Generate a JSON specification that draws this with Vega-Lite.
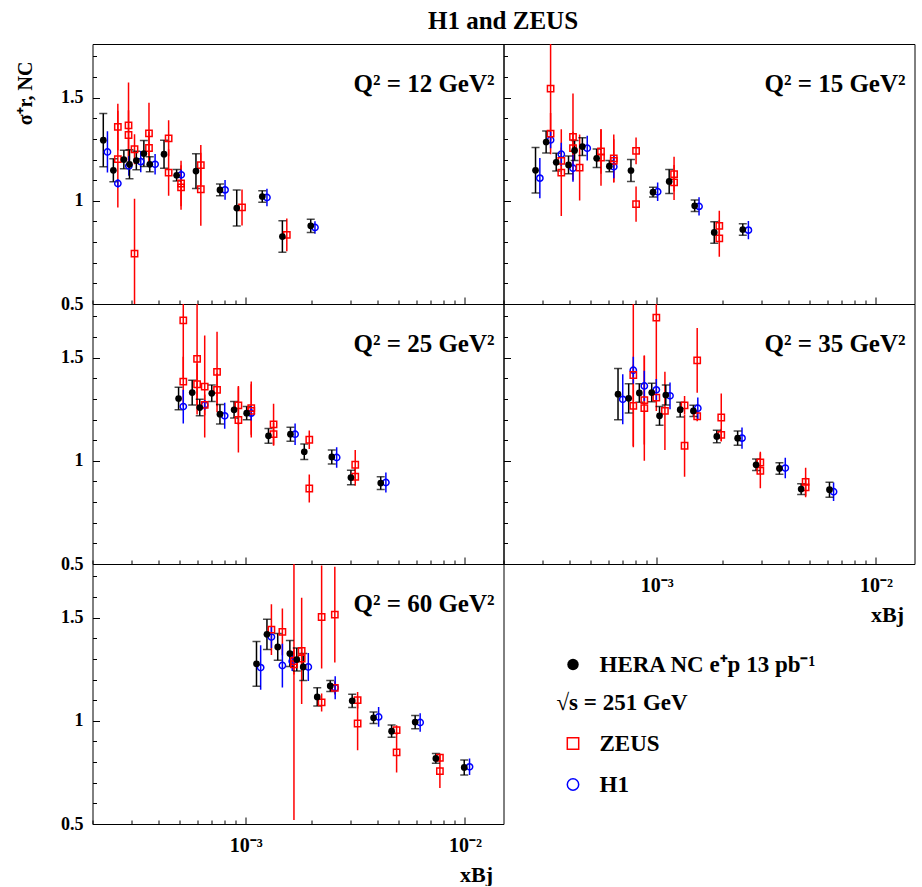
{
  "$schema": "https://vega.github.io/schema/vega-lite/v6.json",
  "padding": {"left": 14.5, "top": 8, "right": 5, "bottom": 0},
  "title": {"text": "H1 and ZEUS", "font": "Liberation Serif", "fontSize": 25, "fontWeight": "bold", "color": "black", "anchor": "middle", "offset": 10, "dx": 38},
  "columns": 2,
  "spacing": 0,
  "bounds": "flush",
  "datasets": {
    "pts": [
      {"q":"12","e":"HERA","x":0.000224,"y":1.294,"lo":1.165,"hi":1.423},
      {"q":"12","e":"HERA","x":0.000249,"y":1.148,"lo":1.092,"hi":1.204},
      {"q":"12","e":"HERA","x":0.000278,"y":1.200,"lo":1.155,"hi":1.245},
      {"q":"12","e":"HERA","x":0.000295,"y":1.177,"lo":1.107,"hi":1.247},
      {"q":"12","e":"HERA","x":0.000317,"y":1.195,"lo":1.150,"hi":1.240},
      {"q":"12","e":"HERA","x":0.000343,"y":1.229,"lo":1.166,"hi":1.292},
      {"q":"12","e":"HERA","x":0.000365,"y":1.177,"lo":1.141,"hi":1.213},
      {"q":"12","e":"HERA","x":0.000424,"y":1.226,"lo":1.158,"hi":1.294},
      {"q":"12","e":"HERA","x":0.000484,"y":1.124,"lo":1.096,"hi":1.152},
      {"q":"12","e":"HERA","x":0.000593,"y":1.144,"lo":1.060,"hi":1.228},
      {"q":"12","e":"HERA","x":0.000763,"y":1.053,"lo":1.025,"hi":1.081},
      {"q":"12","e":"HERA","x":0.000910,"y":0.965,"lo":0.878,"hi":1.052},
      {"q":"12","e":"HERA","x":0.00119,"y":1.021,"lo":0.993,"hi":1.049},
      {"q":"12","e":"HERA","x":0.00147,"y":0.827,"lo":0.751,"hi":0.903},
      {"q":"12","e":"HERA","x":0.00198,"y":0.879,"lo":0.847,"hi":0.911},
      {"q":"12","e":"H1","x":0.000234,"y":1.237,"lo":1.137,"hi":1.337},
      {"q":"12","e":"H1","x":0.000261,"y":1.084,"lo":1.064,"hi":1.104},
      {"q":"12","e":"H1","x":0.000293,"y":1.169,"lo":1.121,"hi":1.217},
      {"q":"12","e":"H1","x":0.000332,"y":1.190,"lo":1.138,"hi":1.242},
      {"q":"12","e":"H1","x":0.000386,"y":1.177,"lo":1.127,"hi":1.227},
      {"q":"12","e":"H1","x":0.000508,"y":1.126,"lo":1.102,"hi":1.150},
      {"q":"12","e":"H1","x":0.000805,"y":1.053,"lo":1.005,"hi":1.101},
      {"q":"12","e":"H1","x":0.00125,"y":1.016,"lo":0.974,"hi":1.058},
      {"q":"12","e":"H1","x":0.00207,"y":0.871,"lo":0.841,"hi":0.901},
      {"q":"12","e":"ZEUS","x":0.000261,"y":1.358,"lo":1.245,"hi":1.471},
      {"q":"12","e":"ZEUS","x":0.000261,"y":1.202,"lo":0.968,"hi":1.436},
      {"q":"12","e":"ZEUS","x":0.000292,"y":1.366,"lo":1.158,"hi":1.574},
      {"q":"12","e":"ZEUS","x":0.000292,"y":1.319,"lo":1.199,"hi":1.439},
      {"q":"12","e":"ZEUS","x":0.000311,"y":1.250,"lo":1.177,"hi":1.323},
      {"q":"12","e":"ZEUS","x":0.000311,"y":0.744,"lo":0.478,"hi":1.010},
      {"q":"12","e":"ZEUS","x":0.000362,"y":1.327,"lo":1.179,"hi":1.475},
      {"q":"12","e":"ZEUS","x":0.000362,"y":1.256,"lo":1.176,"hi":1.336},
      {"q":"12","e":"ZEUS","x":0.000445,"y":1.303,"lo":1.216,"hi":1.390},
      {"q":"12","e":"ZEUS","x":0.000445,"y":1.137,"lo":1.024,"hi":1.250},
      {"q":"12","e":"ZEUS","x":0.000507,"y":1.084,"lo":0.974,"hi":1.194},
      {"q":"12","e":"ZEUS","x":0.000507,"y":1.065,"lo":0.957,"hi":1.173},
      {"q":"12","e":"ZEUS","x":0.000624,"y":1.173,"lo":1.076,"hi":1.270},
      {"q":"12","e":"ZEUS","x":0.000624,"y":1.056,"lo":0.879,"hi":1.233},
      {"q":"12","e":"ZEUS","x":0.000962,"y":0.968,"lo":0.881,"hi":1.055},
      {"q":"12","e":"ZEUS","x":0.00154,"y":0.835,"lo":0.756,"hi":0.914},

      {"q":"15","e":"HERA","x":0.000280,"y":1.148,"lo":1.038,"hi":1.258},
      {"q":"15","e":"HERA","x":0.000313,"y":1.285,"lo":1.232,"hi":1.338},
      {"q":"15","e":"HERA","x":0.000348,"y":1.187,"lo":1.144,"hi":1.230},
      {"q":"15","e":"HERA","x":0.000396,"y":1.174,"lo":1.131,"hi":1.217},
      {"q":"15","e":"HERA","x":0.000422,"y":1.244,"lo":1.196,"hi":1.292},
      {"q":"15","e":"HERA","x":0.000458,"y":1.263,"lo":1.220,"hi":1.306},
      {"q":"15","e":"HERA","x":0.000532,"y":1.206,"lo":1.161,"hi":1.251},
      {"q":"15","e":"HERA","x":0.000608,"y":1.168,"lo":1.141,"hi":1.195},
      {"q":"15","e":"HERA","x":0.000763,"y":1.147,"lo":1.094,"hi":1.200},
      {"q":"15","e":"HERA","x":0.000962,"y":1.042,"lo":1.018,"hi":1.066},
      {"q":"15","e":"HERA","x":0.00114,"y":1.094,"lo":1.036,"hi":1.152},
      {"q":"15","e":"HERA","x":0.00149,"y":0.976,"lo":0.948,"hi":1.004},
      {"q":"15","e":"HERA","x":0.00183,"y":0.847,"lo":0.795,"hi":0.899},
      {"q":"15","e":"HERA","x":0.00247,"y":0.861,"lo":0.833,"hi":0.889},
      {"q":"15","e":"H1","x":0.000293,"y":1.110,"lo":1.012,"hi":1.208},
      {"q":"15","e":"H1","x":0.000328,"y":1.295,"lo":1.255,"hi":1.335},
      {"q":"15","e":"H1","x":0.000367,"y":1.226,"lo":1.170,"hi":1.282},
      {"q":"15","e":"H1","x":0.000415,"y":1.158,"lo":1.093,"hi":1.223},
      {"q":"15","e":"H1","x":0.000482,"y":1.255,"lo":1.195,"hi":1.315},
      {"q":"15","e":"H1","x":0.000637,"y":1.165,"lo":1.109,"hi":1.221},
      {"q":"15","e":"H1","x":0.00101,"y":1.044,"lo":0.999,"hi":1.089},
      {"q":"15","e":"H1","x":0.00156,"y":0.973,"lo":0.929,"hi":1.017},
      {"q":"15","e":"H1","x":0.00262,"y":0.858,"lo":0.814,"hi":0.902},
      {"q":"15","e":"ZEUS","x":0.000328,"y":1.544,"lo":1.294,"hi":1.794},
      {"q":"15","e":"ZEUS","x":0.000328,"y":1.326,"lo":1.226,"hi":1.426},
      {"q":"15","e":"ZEUS","x":0.000367,"y":1.194,"lo":1.129,"hi":1.259},
      {"q":"15","e":"ZEUS","x":0.000367,"y":1.137,"lo":0.927,"hi":1.347},
      {"q":"15","e":"ZEUS","x":0.000415,"y":1.310,"lo":1.100,"hi":1.520},
      {"q":"15","e":"ZEUS","x":0.000415,"y":1.255,"lo":1.175,"hi":1.335},
      {"q":"15","e":"ZEUS","x":0.000445,"y":1.161,"lo":1.001,"hi":1.321},
      {"q":"15","e":"ZEUS","x":0.000557,"y":1.239,"lo":1.131,"hi":1.347},
      {"q":"15","e":"ZEUS","x":0.000557,"y":1.210,"lo":1.073,"hi":1.347},
      {"q":"15","e":"ZEUS","x":0.000637,"y":1.206,"lo":1.090,"hi":1.322},
      {"q":"15","e":"ZEUS","x":0.000637,"y":1.194,"lo":1.089,"hi":1.299},
      {"q":"15","e":"ZEUS","x":0.000805,"y":1.242,"lo":1.177,"hi":1.307},
      {"q":"15","e":"ZEUS","x":0.000805,"y":0.984,"lo":0.899,"hi":1.069},
      {"q":"15","e":"ZEUS","x":0.00120,"y":1.129,"lo":1.045,"hi":1.213},
      {"q":"15","e":"ZEUS","x":0.00120,"y":1.089,"lo":1.004,"hi":1.174},
      {"q":"15","e":"ZEUS","x":0.00193,"y":0.879,"lo":0.806,"hi":0.952},
      {"q":"15","e":"ZEUS","x":0.00193,"y":0.818,"lo":0.729,"hi":0.907},

      {"q":"25","e":"HERA","x":0.000494,"y":1.302,"lo":1.247,"hi":1.357},
      {"q":"25","e":"HERA","x":0.000570,"y":1.331,"lo":1.271,"hi":1.391},
      {"q":"25","e":"HERA","x":0.000617,"y":1.258,"lo":1.218,"hi":1.298},
      {"q":"25","e":"HERA","x":0.000700,"y":1.327,"lo":1.287,"hi":1.367},
      {"q":"25","e":"HERA","x":0.000763,"y":1.226,"lo":1.179,"hi":1.273},
      {"q":"25","e":"HERA","x":0.000885,"y":1.247,"lo":1.207,"hi":1.287},
      {"q":"25","e":"HERA","x":0.00101,"y":1.231,"lo":1.199,"hi":1.263},
      {"q":"25","e":"HERA","x":0.00127,"y":1.121,"lo":1.085,"hi":1.157},
      {"q":"25","e":"HERA","x":0.00160,"y":1.129,"lo":1.095,"hi":1.163},
      {"q":"25","e":"HERA","x":0.00185,"y":1.044,"lo":1.007,"hi":1.081},
      {"q":"25","e":"HERA","x":0.00247,"y":1.019,"lo":0.985,"hi":1.053},
      {"q":"25","e":"HERA","x":0.00302,"y":0.919,"lo":0.884,"hi":0.954},
      {"q":"25","e":"HERA","x":0.00413,"y":0.892,"lo":0.861,"hi":0.923},
      {"q":"25","e":"H1","x":0.000519,"y":1.263,"lo":1.181,"hi":1.345},
      {"q":"25","e":"H1","x":0.000650,"y":1.271,"lo":1.247,"hi":1.295},
      {"q":"25","e":"H1","x":0.000802,"y":1.218,"lo":1.155,"hi":1.281},
      {"q":"25","e":"H1","x":0.00106,"y":1.231,"lo":1.196,"hi":1.266},
      {"q":"25","e":"H1","x":0.00168,"y":1.129,"lo":1.077,"hi":1.181},
      {"q":"25","e":"H1","x":0.00260,"y":1.016,"lo":0.966,"hi":1.066},
      {"q":"25","e":"H1","x":0.00436,"y":0.895,"lo":0.847,"hi":0.943},
      {"q":"25","e":"ZEUS","x":0.000519,"y":1.681,"lo":1.401,"hi":1.961},
      {"q":"25","e":"ZEUS","x":0.000519,"y":1.384,"lo":1.264,"hi":1.504},
      {"q":"25","e":"ZEUS","x":0.000600,"y":1.494,"lo":1.224,"hi":1.764},
      {"q":"25","e":"ZEUS","x":0.000600,"y":1.371,"lo":1.271,"hi":1.471},
      {"q":"25","e":"ZEUS","x":0.000650,"y":1.360,"lo":1.113,"hi":1.607},
      {"q":"25","e":"ZEUS","x":0.000650,"y":1.271,"lo":1.221,"hi":1.321},
      {"q":"25","e":"ZEUS","x":0.000740,"y":1.431,"lo":1.236,"hi":1.626},
      {"q":"25","e":"ZEUS","x":0.000740,"y":1.344,"lo":1.264,"hi":1.424},
      {"q":"25","e":"ZEUS","x":0.000926,"y":1.269,"lo":1.175,"hi":1.363},
      {"q":"25","e":"ZEUS","x":0.000926,"y":1.198,"lo":1.040,"hi":1.356},
      {"q":"25","e":"ZEUS","x":0.00106,"y":1.255,"lo":1.126,"hi":1.384},
      {"q":"25","e":"ZEUS","x":0.00106,"y":1.242,"lo":1.113,"hi":1.371},
      {"q":"25","e":"ZEUS","x":0.00134,"y":1.177,"lo":1.077,"hi":1.277},
      {"q":"25","e":"ZEUS","x":0.00134,"y":1.129,"lo":1.073,"hi":1.185},
      {"q":"25","e":"ZEUS","x":0.00195,"y":1.102,"lo":1.057,"hi":1.147},
      {"q":"25","e":"ZEUS","x":0.00195,"y":0.866,"lo":0.798,"hi":0.934},
      {"q":"25","e":"ZEUS","x":0.00316,"y":0.981,"lo":0.910,"hi":1.052},
      {"q":"25","e":"ZEUS","x":0.00316,"y":0.923,"lo":0.879,"hi":0.967},

      {"q":"35","e":"HERA","x":0.000666,"y":1.323,"lo":1.199,"hi":1.447},
      {"q":"35","e":"HERA","x":0.000745,"y":1.303,"lo":1.232,"hi":1.374},
      {"q":"35","e":"HERA","x":0.000833,"y":1.329,"lo":1.284,"hi":1.374},
      {"q":"35","e":"HERA","x":0.000949,"y":1.331,"lo":1.286,"hi":1.376},
      {"q":"35","e":"HERA","x":0.00103,"y":1.218,"lo":1.173,"hi":1.263},
      {"q":"35","e":"HERA","x":0.00110,"y":1.319,"lo":1.271,"hi":1.367},
      {"q":"35","e":"HERA","x":0.00128,"y":1.248,"lo":1.212,"hi":1.284},
      {"q":"35","e":"HERA","x":0.00147,"y":1.242,"lo":1.215,"hi":1.269},
      {"q":"35","e":"HERA","x":0.00188,"y":1.118,"lo":1.088,"hi":1.148},
      {"q":"35","e":"HERA","x":0.00234,"y":1.110,"lo":1.075,"hi":1.145},
      {"q":"35","e":"HERA","x":0.00284,"y":0.981,"lo":0.953,"hi":1.009},
      {"q":"35","e":"HERA","x":0.00363,"y":0.963,"lo":0.935,"hi":0.991},
      {"q":"35","e":"HERA","x":0.00456,"y":0.863,"lo":0.837,"hi":0.889},
      {"q":"35","e":"HERA","x":0.00614,"y":0.860,"lo":0.824,"hi":0.896},
      {"q":"35","e":"H1","x":0.000700,"y":1.298,"lo":1.177,"hi":1.419},
      {"q":"35","e":"H1","x":0.000782,"y":1.439,"lo":1.374,"hi":1.504},
      {"q":"35","e":"H1","x":0.000878,"y":1.363,"lo":1.290,"hi":1.436},
      {"q":"35","e":"H1","x":0.000996,"y":1.344,"lo":1.292,"hi":1.396},
      {"q":"35","e":"H1","x":0.00115,"y":1.315,"lo":1.250,"hi":1.380},
      {"q":"35","e":"H1","x":0.00154,"y":1.255,"lo":1.203,"hi":1.307},
      {"q":"35","e":"H1","x":0.00245,"y":1.110,"lo":1.058,"hi":1.162},
      {"q":"35","e":"H1","x":0.00386,"y":0.965,"lo":0.915,"hi":1.015},
      {"q":"35","e":"H1","x":0.00641,"y":0.850,"lo":0.805,"hi":0.895},
      {"q":"35","e":"ZEUS","x":0.000782,"y":1.416,"lo":1.072,"hi":1.760},
      {"q":"35","e":"ZEUS","x":0.000782,"y":1.266,"lo":1.066,"hi":1.466},
      {"q":"35","e":"ZEUS","x":0.000878,"y":1.294,"lo":1.079,"hi":1.509},
      {"q":"35","e":"ZEUS","x":0.000878,"y":1.255,"lo":1.000,"hi":1.510},
      {"q":"35","e":"ZEUS","x":0.000996,"y":1.694,"lo":1.374,"hi":2.014},
      {"q":"35","e":"ZEUS","x":0.000996,"y":1.306,"lo":1.241,"hi":1.371},
      {"q":"35","e":"ZEUS","x":0.00109,"y":1.242,"lo":1.052,"hi":1.432},
      {"q":"35","e":"ZEUS","x":0.00134,"y":1.269,"lo":1.224,"hi":1.314},
      {"q":"35","e":"ZEUS","x":0.00134,"y":1.073,"lo":0.923,"hi":1.223},
      {"q":"35","e":"ZEUS","x":0.00153,"y":1.487,"lo":1.330,"hi":1.644},
      {"q":"35","e":"ZEUS","x":0.00153,"y":1.216,"lo":1.192,"hi":1.240},
      {"q":"35","e":"ZEUS","x":0.00197,"y":1.210,"lo":1.094,"hi":1.326},
      {"q":"35","e":"ZEUS","x":0.00197,"y":1.126,"lo":1.096,"hi":1.156},
      {"q":"35","e":"ZEUS","x":0.00297,"y":0.992,"lo":0.940,"hi":1.044},
      {"q":"35","e":"ZEUS","x":0.00297,"y":0.952,"lo":0.867,"hi":1.037},
      {"q":"35","e":"ZEUS","x":0.00478,"y":0.898,"lo":0.829,"hi":0.967},
      {"q":"35","e":"ZEUS","x":0.00478,"y":0.871,"lo":0.823,"hi":0.919},

      {"q":"60","e":"HERA","x":0.00112,"y":1.276,"lo":1.167,"hi":1.385},
      {"q":"60","e":"HERA","x":0.00125,"y":1.419,"lo":1.346,"hi":1.492},
      {"q":"60","e":"HERA","x":0.00140,"y":1.358,"lo":1.293,"hi":1.423},
      {"q":"60","e":"HERA","x":0.00159,"y":1.326,"lo":1.263,"hi":1.389},
      {"q":"60","e":"HERA","x":0.00171,"y":1.297,"lo":1.241,"hi":1.353},
      {"q":"60","e":"HERA","x":0.00183,"y":1.261,"lo":1.196,"hi":1.326},
      {"q":"60","e":"HERA","x":0.00212,"y":1.116,"lo":1.072,"hi":1.160},
      {"q":"60","e":"HERA","x":0.00243,"y":1.169,"lo":1.142,"hi":1.196},
      {"q":"60","e":"HERA","x":0.00306,"y":1.097,"lo":1.065,"hi":1.129},
      {"q":"60","e":"HERA","x":0.00383,"y":1.015,"lo":0.987,"hi":1.043},
      {"q":"60","e":"HERA","x":0.00463,"y":0.950,"lo":0.920,"hi":0.980},
      {"q":"60","e":"HERA","x":0.00593,"y":0.994,"lo":0.962,"hi":1.026},
      {"q":"60","e":"HERA","x":0.00737,"y":0.818,"lo":0.794,"hi":0.842},
      {"q":"60","e":"HERA","x":0.00993,"y":0.774,"lo":0.738,"hi":0.810},
      {"q":"60","e":"H1","x":0.00117,"y":1.258,"lo":1.150,"hi":1.366},
      {"q":"60","e":"H1","x":0.00131,"y":1.406,"lo":1.353,"hi":1.459},
      {"q":"60","e":"H1","x":0.00147,"y":1.268,"lo":1.162,"hi":1.374},
      {"q":"60","e":"H1","x":0.00163,"y":1.289,"lo":1.241,"hi":1.337},
      {"q":"60","e":"H1","x":0.00193,"y":1.261,"lo":1.193,"hi":1.329},
      {"q":"60","e":"H1","x":0.00256,"y":1.160,"lo":1.104,"hi":1.216},
      {"q":"60","e":"H1","x":0.00404,"y":1.019,"lo":0.971,"hi":1.067},
      {"q":"60","e":"H1","x":0.00625,"y":0.992,"lo":0.947,"hi":1.037},
      {"q":"60","e":"H1","x":0.0105,"y":0.777,"lo":0.737,"hi":0.817},
      {"q":"60","e":"ZEUS","x":0.00131,"y":1.442,"lo":1.319,"hi":1.565},
      {"q":"60","e":"ZEUS","x":0.00147,"y":1.431,"lo":1.318,"hi":1.544},
      {"q":"60","e":"ZEUS","x":0.00166,"y":1.274,"lo":0.519,"hi":2.029},
      {"q":"60","e":"ZEUS","x":0.00166,"y":1.290,"lo":1.225,"hi":1.355},
      {"q":"60","e":"ZEUS","x":0.00180,"y":1.339,"lo":1.081,"hi":1.597},
      {"q":"60","e":"ZEUS","x":0.00180,"y":1.302,"lo":1.252,"hi":1.352},
      {"q":"60","e":"ZEUS","x":0.00222,"y":1.503,"lo":1.253,"hi":1.753},
      {"q":"60","e":"ZEUS","x":0.00222,"y":1.089,"lo":1.045,"hi":1.133},
      {"q":"60","e":"ZEUS","x":0.00255,"y":1.515,"lo":1.283,"hi":1.747},
      {"q":"60","e":"ZEUS","x":0.00255,"y":1.160,"lo":1.128,"hi":1.192},
      {"q":"60","e":"ZEUS","x":0.00324,"y":1.100,"lo":1.060,"hi":1.140},
      {"q":"60","e":"ZEUS","x":0.00324,"y":0.987,"lo":0.858,"hi":1.116},
      {"q":"60","e":"ZEUS","x":0.00488,"y":0.955,"lo":0.931,"hi":0.979},
      {"q":"60","e":"ZEUS","x":0.00488,"y":0.847,"lo":0.750,"hi":0.944},
      {"q":"60","e":"ZEUS","x":0.00769,"y":0.821,"lo":0.800,"hi":0.842},
      {"q":"60","e":"ZEUS","x":0.00769,"y":0.756,"lo":0.675,"hi":0.837}
    ]
  },
  "concat": [
    {
      "width": 411, "height": 260,
      "title": {"text": "Q² = 12 GeV²", "orient": "top", "anchor": "end", "frame": "group", "offset": -73, "dx": -9, "baseline": "alphabetic", "font": "Liberation Serif", "fontWeight": "bold", "fontSize": 25, "color": "black"},
      "data": {"name": "pts"},
      "transform": [{"filter": "datum.q == '12'"}],
      "encoding": {
        "x": {"field": "x", "type": "quantitative", "scale": {"type": "log", "domain": [0.0002, 0.015]},
          "axis": {"values": [0.0002,0.0003,0.0004,0.0005,0.0006,0.0007,0.0008,0.0009,0.001,0.002,0.003,0.004,0.005,0.006,0.007,0.008,0.009,0.01],
            "tickSize": {"condition": {"test": "datum.value == 0.001 || datum.value == 0.01", "value": -7}, "value": -4},
            "labels": false, "title": null}},
        "y": {"field": "y", "type": "quantitative", "scale": {"domain": [0.5, 1.76], "zero": false, "nice": false},
          "axis": {"values": [0.5,0.6,0.7,0.8,0.9,1,1.1,1.2,1.3,1.4,1.5,1.6,1.7],
            "tickSize": {"condition": {"test": "datum.value == 0.5 || datum.value == 1 || datum.value == 1.5", "value": -7}, "value": -4},
            "labelExpr": "datum.value == 0.5 ? '0.5' : datum.value == 1 ? '1' : datum.value == 1.5 ? '1.5' : ''",
            "labelFontSize": 18, "labelPadding": 16.5,
            "title": "σ⁺r, NC", "titleFontSize": 20, "titleAngle": -90, "titleAlign": "right", "titleBaseline": "bottom", "titleX": -57, "titleY": 17}}
      },
      "layer": [
        {"transform": [{"filter": "datum.e == 'ZEUS'"}], "mark": {"type": "rule", "color": "#ff0000", "strokeWidth": 1.5, "clip": true},
          "encoding": {"y": {"field": "lo", "type": "quantitative", "axis": {"values": [0.5,0.6,0.7,0.8,0.9,1,1.1,1.2,1.3,1.4,1.5,1.6,1.7],
            "tickSize": {"condition": {"test": "datum.value == 0.5 || datum.value == 1 || datum.value == 1.5", "value": -7}, "value": -4},
            "labelExpr": "datum.value == 0.5 ? '0.5' : datum.value == 1 ? '1' : datum.value == 1.5 ? '1.5' : ''",
            "labelFontSize": 18, "labelPadding": 16.5,
            "title": "σ⁺r, NC", "titleFontSize": 20, "titleAngle": -90, "titleAlign": "right", "titleBaseline": "bottom", "titleX": -57, "titleY": 17}}, "y2": {"field": "hi"}}},
        {"transform": [{"filter": "datum.e == 'H1'"}], "mark": {"type": "rule", "color": "#0000ff", "strokeWidth": 1.5, "clip": true},
          "encoding": {"y": {"field": "lo", "type": "quantitative", "axis": {"values": [0.5,0.6,0.7,0.8,0.9,1,1.1,1.2,1.3,1.4,1.5,1.6,1.7],
            "tickSize": {"condition": {"test": "datum.value == 0.5 || datum.value == 1 || datum.value == 1.5", "value": -7}, "value": -4},
            "labelExpr": "datum.value == 0.5 ? '0.5' : datum.value == 1 ? '1' : datum.value == 1.5 ? '1.5' : ''",
            "labelFontSize": 18, "labelPadding": 16.5,
            "title": "σ⁺r, NC", "titleFontSize": 20, "titleAngle": -90, "titleAlign": "right", "titleBaseline": "bottom", "titleX": -57, "titleY": 17}}, "y2": {"field": "hi"}}},
        {"transform": [{"filter": "datum.e == 'HERA'"}], "mark": {"type": "rule", "color": "black", "strokeWidth": 1.5, "clip": true},
          "encoding": {"y": {"field": "lo", "type": "quantitative", "axis": {"values": [0.5,0.6,0.7,0.8,0.9,1,1.1,1.2,1.3,1.4,1.5,1.6,1.7],
            "tickSize": {"condition": {"test": "datum.value == 0.5 || datum.value == 1 || datum.value == 1.5", "value": -7}, "value": -4},
            "labelExpr": "datum.value == 0.5 ? '0.5' : datum.value == 1 ? '1' : datum.value == 1.5 ? '1.5' : ''",
            "labelFontSize": 18, "labelPadding": 16.5,
            "title": "σ⁺r, NC", "titleFontSize": 20, "titleAngle": -90, "titleAlign": "right", "titleBaseline": "bottom", "titleX": -57, "titleY": 17}}, "y2": {"field": "hi"}}},
        {"transform": [{"filter": "datum.e == 'HERA'"}], "mark": {"type": "tick", "orient": "horizontal", "size": 8, "thickness": 1.5, "color": "black", "clip": true},
          "encoding": {"y": {"field": "lo", "type": "quantitative", "axis": {"values": [0.5,0.6,0.7,0.8,0.9,1,1.1,1.2,1.3,1.4,1.5,1.6,1.7],
            "tickSize": {"condition": {"test": "datum.value == 0.5 || datum.value == 1 || datum.value == 1.5", "value": -7}, "value": -4},
            "labelExpr": "datum.value == 0.5 ? '0.5' : datum.value == 1 ? '1' : datum.value == 1.5 ? '1.5' : ''",
            "labelFontSize": 18, "labelPadding": 16.5,
            "title": "σ⁺r, NC", "titleFontSize": 20, "titleAngle": -90, "titleAlign": "right", "titleBaseline": "bottom", "titleX": -57, "titleY": 17}}}},
        {"transform": [{"filter": "datum.e == 'HERA'"}], "mark": {"type": "tick", "orient": "horizontal", "size": 8, "thickness": 1.5, "color": "black", "clip": true},
          "encoding": {"y": {"field": "hi", "type": "quantitative", "axis": {"values": [0.5,0.6,0.7,0.8,0.9,1,1.1,1.2,1.3,1.4,1.5,1.6,1.7],
            "tickSize": {"condition": {"test": "datum.value == 0.5 || datum.value == 1 || datum.value == 1.5", "value": -7}, "value": -4},
            "labelExpr": "datum.value == 0.5 ? '0.5' : datum.value == 1 ? '1' : datum.value == 1.5 ? '1.5' : ''",
            "labelFontSize": 18, "labelPadding": 16.5,
            "title": "σ⁺r, NC", "titleFontSize": 20, "titleAngle": -90, "titleAlign": "right", "titleBaseline": "bottom", "titleX": -57, "titleY": 17}}}},
        {"transform": [{"filter": "datum.e != 'HERA'"}], "mark": {"type": "point", "filled": false, "strokeWidth": 1.5, "size": 40, "opacity": 1, "clip": true},
          "encoding": {
            "shape": {"field": "e", "type": "nominal", "scale": {"domain": ["ZEUS", "H1"], "range": ["square", "circle"]},
              "legend": {"title": "√s = 251 GeV", "orient": "none", "legendX": 464, "legendY": 648, "symbolOffset": 5, "rowPadding": 17, "titlePadding": 17, "symbolFillColor": "transparent"}},
            "stroke": {"field": "e", "type": "nominal", "scale": {"domain": ["ZEUS", "H1"], "range": ["#ff0000", "#0000ff"]},
              "legend": {"title": "√s = 251 GeV", "orient": "none", "legendX": 464, "legendY": 648, "symbolOffset": 5, "rowPadding": 17, "titlePadding": 17, "symbolFillColor": "transparent"}}
          }},
        {"transform": [{"filter": "datum.e == 'HERA'"}], "mark": {"type": "point", "filled": true, "size": 45, "opacity": 1, "clip": true},
          "encoding": {"fill": {"field": "e", "type": "nominal", "scale": {"domain": ["HERA"], "range": ["black"]},
            "legend": {"title": null, "orient": "none", "legendX": 469, "legendY": 609, "symbolType": "circle", "labelExpr": "'HERA NC e⁺p 13 pb⁻¹'", "symbolStrokeWidth": 0}}}}
      ]
    },
    {
      "width": 411, "height": 260,
      "title": {"text": "Q² = 15 GeV²", "orient": "top", "anchor": "end", "frame": "group", "offset": -73, "dx": -9, "baseline": "alphabetic", "font": "Liberation Serif", "fontWeight": "bold", "fontSize": 25, "color": "black"},
      "data": {"name": "pts"},
      "transform": [{"filter": "datum.q == '15'"}],
      "encoding": {
        "x": {"field": "x", "type": "quantitative", "scale": {"type": "log", "domain": [0.0002, 0.015]},
          "axis": {"values": [0.0002,0.0003,0.0004,0.0005,0.0006,0.0007,0.0008,0.0009,0.001,0.002,0.003,0.004,0.005,0.006,0.007,0.008,0.009,0.01],
            "tickSize": {"condition": {"test": "datum.value == 0.001 || datum.value == 0.01", "value": -7}, "value": -4},
            "labels": false, "title": null}},
        "y": {"field": "y", "type": "quantitative", "scale": {"domain": [0.5, 1.76], "zero": false, "nice": false},
          "axis": {"values": [0.5,0.6,0.7,0.8,0.9,1,1.1,1.2,1.3,1.4,1.5,1.6,1.7],
            "tickSize": {"condition": {"test": "datum.value == 0.5 || datum.value == 1 || datum.value == 1.5", "value": -7}, "value": -4},
            "labels": false, "title": null}}
      },
      "layer": [
        {"transform": [{"filter": "datum.e == 'ZEUS'"}], "mark": {"type": "rule", "color": "#ff0000", "strokeWidth": 1.5, "clip": true},
          "encoding": {"y": {"field": "lo", "type": "quantitative"}, "y2": {"field": "hi"}}},
        {"transform": [{"filter": "datum.e == 'H1'"}], "mark": {"type": "rule", "color": "#0000ff", "strokeWidth": 1.5, "clip": true},
          "encoding": {"y": {"field": "lo", "type": "quantitative"}, "y2": {"field": "hi"}}},
        {"transform": [{"filter": "datum.e == 'HERA'"}], "mark": {"type": "rule", "color": "black", "strokeWidth": 1.5, "clip": true},
          "encoding": {"y": {"field": "lo", "type": "quantitative"}, "y2": {"field": "hi"}}},
        {"transform": [{"filter": "datum.e == 'HERA'"}], "mark": {"type": "tick", "orient": "horizontal", "size": 8, "thickness": 1.5, "color": "black", "clip": true},
          "encoding": {"y": {"field": "lo", "type": "quantitative"}}},
        {"transform": [{"filter": "datum.e == 'HERA'"}], "mark": {"type": "tick", "orient": "horizontal", "size": 8, "thickness": 1.5, "color": "black", "clip": true},
          "encoding": {"y": {"field": "hi", "type": "quantitative"}}},
        {"transform": [{"filter": "datum.e != 'HERA'"}], "mark": {"type": "point", "filled": false, "strokeWidth": 1.5, "size": 40, "opacity": 1, "clip": true},
          "encoding": {
            "shape": {"field": "e", "type": "nominal", "scale": {"domain": ["ZEUS", "H1"], "range": ["square", "circle"]},
              "legend": {"title": "√s = 251 GeV", "orient": "none", "legendX": 464, "legendY": 648, "symbolOffset": 5, "rowPadding": 17, "titlePadding": 17, "symbolFillColor": "transparent"}},
            "stroke": {"field": "e", "type": "nominal", "scale": {"domain": ["ZEUS", "H1"], "range": ["#ff0000", "#0000ff"]},
              "legend": {"title": "√s = 251 GeV", "orient": "none", "legendX": 464, "legendY": 648, "symbolOffset": 5, "rowPadding": 17, "titlePadding": 17, "symbolFillColor": "transparent"}}
          }},
        {"transform": [{"filter": "datum.e == 'HERA'"}], "mark": {"type": "point", "filled": true, "size": 45, "opacity": 1, "clip": true},
          "encoding": {"fill": {"field": "e", "type": "nominal", "scale": {"domain": ["HERA"], "range": ["black"]},
            "legend": {"title": null, "orient": "none", "legendX": 469, "legendY": 609, "symbolType": "circle", "labelExpr": "'HERA NC e⁺p 13 pb⁻¹'", "symbolStrokeWidth": 0}}}}
      ]
    },
    {
      "width": 411, "height": 260,
      "title": {"text": "Q² = 25 GeV²", "orient": "top", "anchor": "end", "frame": "group", "offset": -73, "dx": -9, "baseline": "alphabetic", "font": "Liberation Serif", "fontWeight": "bold", "fontSize": 25, "color": "black"},
      "data": {"name": "pts"},
      "transform": [{"filter": "datum.q == '25'"}],
      "encoding": {
        "x": {"field": "x", "type": "quantitative", "scale": {"type": "log", "domain": [0.0002, 0.015]},
          "axis": {"values": [0.0002,0.0003,0.0004,0.0005,0.0006,0.0007,0.0008,0.0009,0.001,0.002,0.003,0.004,0.005,0.006,0.007,0.008,0.009,0.01],
            "tickSize": {"condition": {"test": "datum.value == 0.001 || datum.value == 0.01", "value": -7}, "value": -4},
            "labels": false, "title": null}},
        "y": {"field": "y", "type": "quantitative", "scale": {"domain": [0.5, 1.76], "zero": false, "nice": false},
          "axis": {"values": [0.5,0.6,0.7,0.8,0.9,1,1.1,1.2,1.3,1.4,1.5,1.6,1.7],
            "tickSize": {"condition": {"test": "datum.value == 0.5 || datum.value == 1 || datum.value == 1.5", "value": -7}, "value": -4},
            "labelExpr": "datum.value == 0.5 ? '0.5' : datum.value == 1 ? '1' : datum.value == 1.5 ? '1.5' : ''",
            "labelFontSize": 18, "labelPadding": 16.5, "title": null}}
      },
      "layer": [
        {"transform": [{"filter": "datum.e == 'ZEUS'"}], "mark": {"type": "rule", "color": "#ff0000", "strokeWidth": 1.5, "clip": true},
          "encoding": {"y": {"field": "lo", "type": "quantitative"}, "y2": {"field": "hi"}}},
        {"transform": [{"filter": "datum.e == 'H1'"}], "mark": {"type": "rule", "color": "#0000ff", "strokeWidth": 1.5, "clip": true},
          "encoding": {"y": {"field": "lo", "type": "quantitative"}, "y2": {"field": "hi"}}},
        {"transform": [{"filter": "datum.e == 'HERA'"}], "mark": {"type": "rule", "color": "black", "strokeWidth": 1.5, "clip": true},
          "encoding": {"y": {"field": "lo", "type": "quantitative"}, "y2": {"field": "hi"}}},
        {"transform": [{"filter": "datum.e == 'HERA'"}], "mark": {"type": "tick", "orient": "horizontal", "size": 8, "thickness": 1.5, "color": "black", "clip": true},
          "encoding": {"y": {"field": "lo", "type": "quantitative"}}},
        {"transform": [{"filter": "datum.e == 'HERA'"}], "mark": {"type": "tick", "orient": "horizontal", "size": 8, "thickness": 1.5, "color": "black", "clip": true},
          "encoding": {"y": {"field": "hi", "type": "quantitative"}}},
        {"transform": [{"filter": "datum.e != 'HERA'"}], "mark": {"type": "point", "filled": false, "strokeWidth": 1.5, "size": 40, "opacity": 1, "clip": true},
          "encoding": {
            "shape": {"field": "e", "type": "nominal", "scale": {"domain": ["ZEUS", "H1"], "range": ["square", "circle"]},
              "legend": {"title": "√s = 251 GeV", "orient": "none", "legendX": 464, "legendY": 648, "symbolOffset": 5, "rowPadding": 17, "titlePadding": 17, "symbolFillColor": "transparent"}},
            "stroke": {"field": "e", "type": "nominal", "scale": {"domain": ["ZEUS", "H1"], "range": ["#ff0000", "#0000ff"]},
              "legend": {"title": "√s = 251 GeV", "orient": "none", "legendX": 464, "legendY": 648, "symbolOffset": 5, "rowPadding": 17, "titlePadding": 17, "symbolFillColor": "transparent"}}
          }},
        {"transform": [{"filter": "datum.e == 'HERA'"}], "mark": {"type": "point", "filled": true, "size": 45, "opacity": 1, "clip": true},
          "encoding": {"fill": {"field": "e", "type": "nominal", "scale": {"domain": ["HERA"], "range": ["black"]},
            "legend": {"title": null, "orient": "none", "legendX": 469, "legendY": 609, "symbolType": "circle", "labelExpr": "'HERA NC e⁺p 13 pb⁻¹'", "symbolStrokeWidth": 0}}}}
      ]
    },
    {
      "width": 411, "height": 260,
      "title": {"text": "Q² = 35 GeV²", "orient": "top", "anchor": "end", "frame": "group", "offset": -73, "dx": -9, "baseline": "alphabetic", "font": "Liberation Serif", "fontWeight": "bold", "fontSize": 25, "color": "black"},
      "data": {"name": "pts"},
      "transform": [{"filter": "datum.q == '35'"}],
      "encoding": {
        "x": {"field": "x", "type": "quantitative", "scale": {"type": "log", "domain": [0.0002, 0.015]},
          "axis": {"values": [0.0002,0.0003,0.0004,0.0005,0.0006,0.0007,0.0008,0.0009,0.001,0.002,0.003,0.004,0.005,0.006,0.007,0.008,0.009,0.01],
            "tickSize": {"condition": {"test": "datum.value == 0.001 || datum.value == 0.01", "value": -7}, "value": -4},
            "labelExpr": "datum.value == 0.001 ? '10⁻³' : datum.value == 0.01 ? '10⁻²' : ''",
            "labelFontSize": 20, "labelPadding": 18,
            "title": "xBj", "titleFontSize": 22, "titleAlign": "right", "titleX": 400, "titlePadding": 6}},
        "y": {"field": "y", "type": "quantitative", "scale": {"domain": [0.5, 1.76], "zero": false, "nice": false},
          "axis": {"values": [0.5,0.6,0.7,0.8,0.9,1,1.1,1.2,1.3,1.4,1.5,1.6,1.7],
            "tickSize": {"condition": {"test": "datum.value == 0.5 || datum.value == 1 || datum.value == 1.5", "value": -7}, "value": -4},
            "labels": false, "title": null}}
      },
      "layer": [
        {"transform": [{"filter": "datum.e == 'ZEUS'"}], "mark": {"type": "rule", "color": "#ff0000", "strokeWidth": 1.5, "clip": true},
          "encoding": {"y": {"field": "lo", "type": "quantitative"}, "y2": {"field": "hi"}}},
        {"transform": [{"filter": "datum.e == 'H1'"}], "mark": {"type": "rule", "color": "#0000ff", "strokeWidth": 1.5, "clip": true},
          "encoding": {"y": {"field": "lo", "type": "quantitative"}, "y2": {"field": "hi"}}},
        {"transform": [{"filter": "datum.e == 'HERA'"}], "mark": {"type": "rule", "color": "black", "strokeWidth": 1.5, "clip": true},
          "encoding": {"y": {"field": "lo", "type": "quantitative"}, "y2": {"field": "hi"}}},
        {"transform": [{"filter": "datum.e == 'HERA'"}], "mark": {"type": "tick", "orient": "horizontal", "size": 8, "thickness": 1.5, "color": "black", "clip": true},
          "encoding": {"y": {"field": "lo", "type": "quantitative"}}},
        {"transform": [{"filter": "datum.e == 'HERA'"}], "mark": {"type": "tick", "orient": "horizontal", "size": 8, "thickness": 1.5, "color": "black", "clip": true},
          "encoding": {"y": {"field": "hi", "type": "quantitative"}}},
        {"transform": [{"filter": "datum.e != 'HERA'"}], "mark": {"type": "point", "filled": false, "strokeWidth": 1.5, "size": 40, "opacity": 1, "clip": true},
          "encoding": {
            "shape": {"field": "e", "type": "nominal", "scale": {"domain": ["ZEUS", "H1"], "range": ["square", "circle"]},
              "legend": {"title": "√s = 251 GeV", "orient": "none", "legendX": 464, "legendY": 648, "symbolOffset": 5, "rowPadding": 17, "titlePadding": 17, "symbolFillColor": "transparent"}},
            "stroke": {"field": "e", "type": "nominal", "scale": {"domain": ["ZEUS", "H1"], "range": ["#ff0000", "#0000ff"]},
              "legend": {"title": "√s = 251 GeV", "orient": "none", "legendX": 464, "legendY": 648, "symbolOffset": 5, "rowPadding": 17, "titlePadding": 17, "symbolFillColor": "transparent"}}
          }},
        {"transform": [{"filter": "datum.e == 'HERA'"}], "mark": {"type": "point", "filled": true, "size": 45, "opacity": 1, "clip": true},
          "encoding": {"fill": {"field": "e", "type": "nominal", "scale": {"domain": ["HERA"], "range": ["black"]},
            "legend": {"title": null, "orient": "none", "legendX": 469, "legendY": 609, "symbolType": "circle", "labelExpr": "'HERA NC e⁺p 13 pb⁻¹'", "symbolStrokeWidth": 0}}}}
      ]
    },
    {
      "width": 411, "height": 260,
      "title": {"text": "Q² = 60 GeV²", "orient": "top", "anchor": "end", "frame": "group", "offset": -73, "dx": -9, "baseline": "alphabetic", "font": "Liberation Serif", "fontWeight": "bold", "fontSize": 25, "color": "black"},
      "data": {"name": "pts"},
      "transform": [{"filter": "datum.q == '60'"}],
      "encoding": {
        "x": {"field": "x", "type": "quantitative", "scale": {"type": "log", "domain": [0.0002, 0.015]},
          "axis": {"values": [0.0002,0.0003,0.0004,0.0005,0.0006,0.0007,0.0008,0.0009,0.001,0.002,0.003,0.004,0.005,0.006,0.007,0.008,0.009,0.01],
            "tickSize": {"condition": {"test": "datum.value == 0.001 || datum.value == 0.01", "value": -7}, "value": -4},
            "labelExpr": "datum.value == 0.001 ? '10⁻³' : datum.value == 0.01 ? '10⁻²' : ''",
            "labelFontSize": 20, "labelPadding": 18,
            "title": "xBj", "titleFontSize": 22, "titleAlign": "right", "titleX": 400, "titlePadding": 6}},
        "y": {"field": "y", "type": "quantitative", "scale": {"domain": [0.5, 1.76], "zero": false, "nice": false},
          "axis": {"values": [0.5,0.6,0.7,0.8,0.9,1,1.1,1.2,1.3,1.4,1.5,1.6,1.7],
            "tickSize": {"condition": {"test": "datum.value == 0.5 || datum.value == 1 || datum.value == 1.5", "value": -7}, "value": -4},
            "labelExpr": "datum.value == 0.5 ? '0.5' : datum.value == 1 ? '1' : datum.value == 1.5 ? '1.5' : ''",
            "labelFontSize": 18, "labelPadding": 16.5, "title": null}}
      },
      "layer": [
        {"transform": [{"filter": "datum.e == 'ZEUS'"}], "mark": {"type": "rule", "color": "#ff0000", "strokeWidth": 1.5, "clip": true},
          "encoding": {"y": {"field": "lo", "type": "quantitative"}, "y2": {"field": "hi"}}},
        {"transform": [{"filter": "datum.e == 'H1'"}], "mark": {"type": "rule", "color": "#0000ff", "strokeWidth": 1.5, "clip": true},
          "encoding": {"y": {"field": "lo", "type": "quantitative"}, "y2": {"field": "hi"}}},
        {"transform": [{"filter": "datum.e == 'HERA'"}], "mark": {"type": "rule", "color": "black", "strokeWidth": 1.5, "clip": true},
          "encoding": {"y": {"field": "lo", "type": "quantitative"}, "y2": {"field": "hi"}}},
        {"transform": [{"filter": "datum.e == 'HERA'"}], "mark": {"type": "tick", "orient": "horizontal", "size": 8, "thickness": 1.5, "color": "black", "clip": true},
          "encoding": {"y": {"field": "lo", "type": "quantitative"}}},
        {"transform": [{"filter": "datum.e == 'HERA'"}], "mark": {"type": "tick", "orient": "horizontal", "size": 8, "thickness": 1.5, "color": "black", "clip": true},
          "encoding": {"y": {"field": "hi", "type": "quantitative"}}},
        {"transform": [{"filter": "datum.e != 'HERA'"}], "mark": {"type": "point", "filled": false, "strokeWidth": 1.5, "size": 40, "opacity": 1, "clip": true},
          "encoding": {
            "shape": {"field": "e", "type": "nominal", "scale": {"domain": ["ZEUS", "H1"], "range": ["square", "circle"]},
              "legend": {"title": "√s = 251 GeV", "orient": "none", "legendX": 464, "legendY": 648, "symbolOffset": 5, "rowPadding": 17, "titlePadding": 17, "symbolFillColor": "transparent"}},
            "stroke": {"field": "e", "type": "nominal", "scale": {"domain": ["ZEUS", "H1"], "range": ["#ff0000", "#0000ff"]},
              "legend": {"title": "√s = 251 GeV", "orient": "none", "legendX": 464, "legendY": 648, "symbolOffset": 5, "rowPadding": 17, "titlePadding": 17, "symbolFillColor": "transparent"}}
          }},
        {"transform": [{"filter": "datum.e == 'HERA'"}], "mark": {"type": "point", "filled": true, "size": 45, "opacity": 1, "clip": true},
          "encoding": {"fill": {"field": "e", "type": "nominal", "scale": {"domain": ["HERA"], "range": ["black"]},
            "legend": {"title": null, "orient": "none", "legendX": 469, "legendY": 609, "symbolType": "circle", "labelExpr": "'HERA NC e⁺p 13 pb⁻¹'", "symbolStrokeWidth": 0}}}}
      ]
    }
  ],
  "config": {
    "background": "white",
    "font": "Liberation Serif",
    "view": {"stroke": "black", "strokeWidth": 1},
    "axis": {"labelFont": "Liberation Serif", "labelFontWeight": "bold", "labelColor": "black", "tickColor": "black", "tickWidth": 1,
      "domain": false, "grid": false, "titleFont": "Liberation Serif", "titleFontWeight": "bold", "titleColor": "black",
      "labelFlush": false, "labelOverlap": false, "labelBound": false},
    "legend": {"labelFont": "Liberation Serif", "labelFontWeight": "bold", "labelFontSize": 23, "labelColor": "black", "labelOffset": 15, "labelLimit": 400,
      "titleFont": "Liberation Serif", "titleFontWeight": "bold", "titleFontSize": 23, "titleColor": "black", "titleLimit": 400,
      "symbolSize": 130, "symbolStrokeWidth": 1.5, "padding": 0}
  }
}
